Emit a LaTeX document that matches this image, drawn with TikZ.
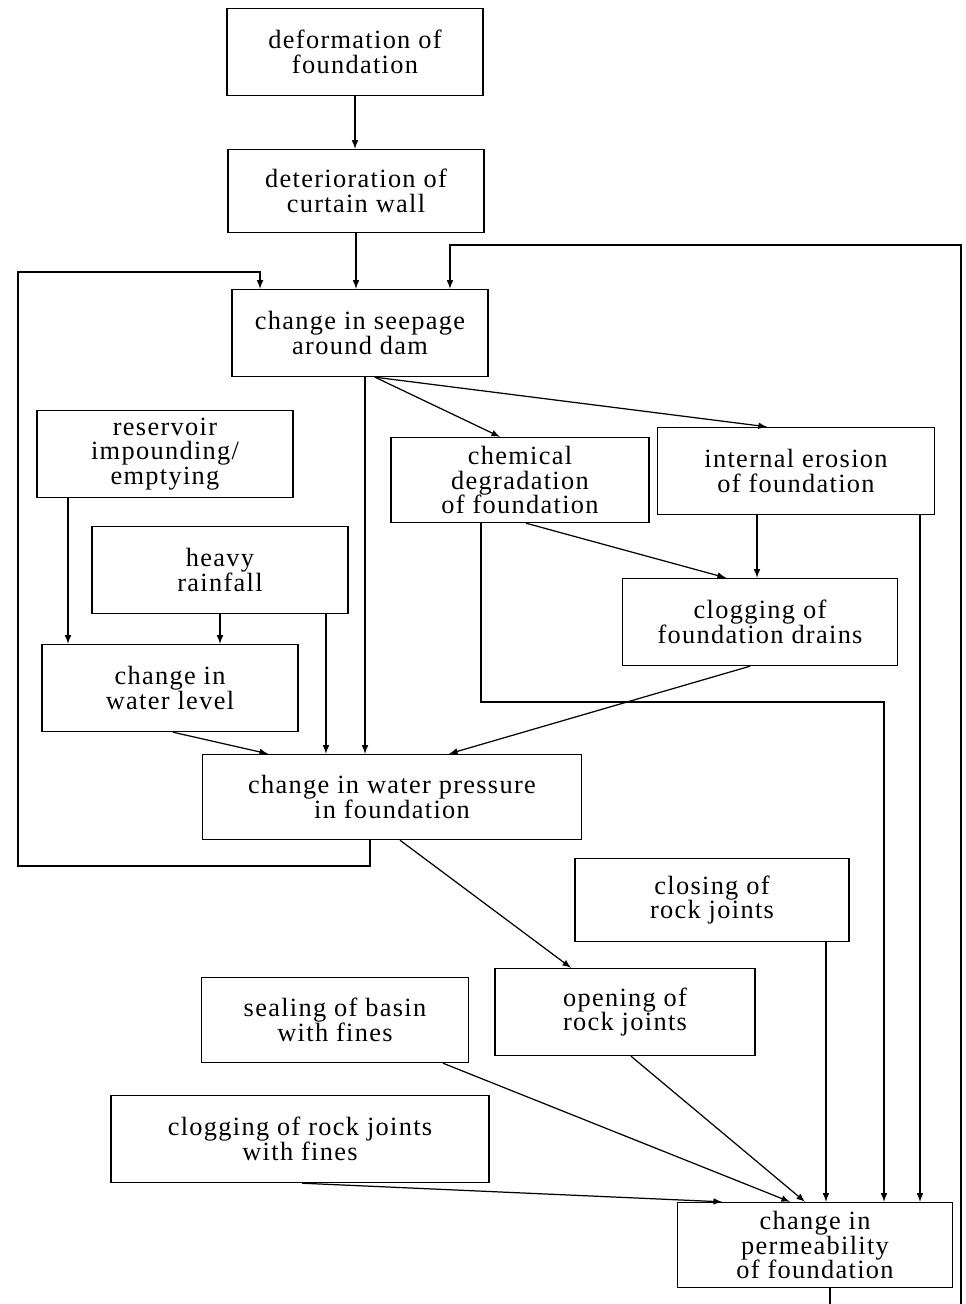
\documentclass[tikz,border=0pt]{standalone}
\usepackage{fontspec}
\setmainfont{Liberation Serif}[LetterSpace=5]
\usetikzlibrary{arrows,calc}
\tikzset{>=latex}

\begin{document}
\begin{tikzpicture}[x=0.02cm, y=-0.02cm, line width=0.7pt,
		box/.style={draw, line width=0.8pt, align=center, inner sep=1pt,
			minimum width=5.12cm, minimum height=1.74cm,
			font=\fontsize{15pt}{14pt}\selectfont}]
		\path[use as bounding box, clip] (0,0) rectangle (966,1304);

		\node[box] (defo) at (355,52) {deformation of\\foundation};
		\node[box,minimum height=1.66cm] (curtain) at (356,191) {deterioration of\\curtain wall};
		\node[box] (seep) at (360,333) {change in seepage\\around dam};

		\node[box] (reserv) at (165,454) {reservoir\\impounding/\\emptying};
		\node[box] (rain) at (220,570) {heavy\\rainfall};
		\node[box] (wlevel) at (170,688) {change in\\water level};
		\node[box,minimum width=7.58cm,minimum height=1.7cm] (wpress) at (392,797) {change in water pressure\\in foundation};

		\node[box,minimum width=5.16cm,minimum height=1.7cm] (chem) at (520,480) {chemical\\degradation\\of foundation};
		\node[box,minimum width=5.54cm] (erosion) at (796,471) {internal erosion\\of foundation};
		\node[box,minimum width=5.5cm] (drains) at (760,622) {clogging of\\foundation drains};

		\node[box,minimum width=5.48cm,minimum height=1.66cm] (closing) at (712,900) {closing of\\rock joints};
		\node[box,minimum width=5.34cm,minimum height=1.7cm] (sealing) at (335,1020) {sealing of basin\\with fines};
		\node[box,minimum width=5.2cm] (opening) at (625,1012) {opening of\\rock joints};
		\node[box,minimum width=7.56cm] (clogrock) at (300,1139) {clogging of rock joints\\with fines};
		\node[box,minimum width=5.5cm,minimum height=1.7cm] (perm) at (815,1245) {change in\\permeability\\of foundation};

		\draw[->] (defo.south) -- (defo.south |- curtain.north);
		\draw[->] (curtain.south) -- (curtain.south |- seep.north);

		\draw[->] ([xshift=0.1cm]seep.south) -- ([xshift=0.1cm]seep.south |- wpress.north);
		\draw[->] ([xshift=0.3cm]seep.south) -- ([xshift=-0.4cm]chem.north);
		\draw[->] ([xshift=0.3cm]seep.south) -- ([xshift=-0.58cm]erosion.north);

		\draw[->] ([xshift=-1.94cm]reserv.south) -- ([xshift=-1.94cm]reserv.south |- wlevel.north);
		\draw[->] (rain.south) -- (rain.south |- wlevel.north);
		\draw[->] ([xshift=2.12cm]rain.south) -- ([xshift=2.12cm]rain.south |- wpress.north);
		\draw[->] ([xshift=0.06cm]wlevel.south) -- ([xshift=-2.48cm]wpress.north);

		\draw[->] ([xshift=0.12cm]chem.south) -- ([xshift=-0.68cm]drains.north);
		\draw[->] ([xshift=-0.78cm]erosion.south) -- ([xshift=-0.78cm]erosion.south |- drains.north);
		\draw[->] ([xshift=-0.2cm]drains.south) -- ([xshift=1.14cm]wpress.north);

		\draw[->] ([xshift=0.16cm]wpress.south) -- ([xshift=-1.08cm]opening.north);

		% paths into permeability.
		\coordinate (chemturn) at (884,702);
		\draw[->] ([xshift=-0.78cm]chem.south) |- (chemturn) -- (chemturn |- perm.north);
		\draw[->] ([xshift=2.48cm]erosion.south) -- ([xshift=2.48cm]erosion.south |- perm.north);
		\draw[->] ([xshift=2.28cm]closing.south) -- ([xshift=2.28cm]closing.south |- perm.north);
		\draw[->] ([xshift=0.12cm]opening.south) -- ([xshift=-0.2cm]perm.north);
		\draw[->] ([xshift=2.16cm]sealing.south) -- ([xshift=-0.5cm]perm.north);
		\draw[->] ([xshift=0.04cm]clogrock.south) -- ([xshift=-1.86cm]perm.north);

		% feedback loops.
		\coordinate (leftbottom) at (18,866);
		\coordinate (lefttop) at (18,272);
		\draw[->] ([xshift=-0.44cm]wpress.south) |- (leftbottom) -- (lefttop) -| ([xshift=-2cm]seep.north);

		\coordinate (rightedge) at (961,245);
		\draw[->] ([xshift=0.3cm]perm.south) -- ++(0,-1cm) -| (rightedge) -| ([xshift=1.8cm]seep.north);
\end{tikzpicture}
\end{document}
